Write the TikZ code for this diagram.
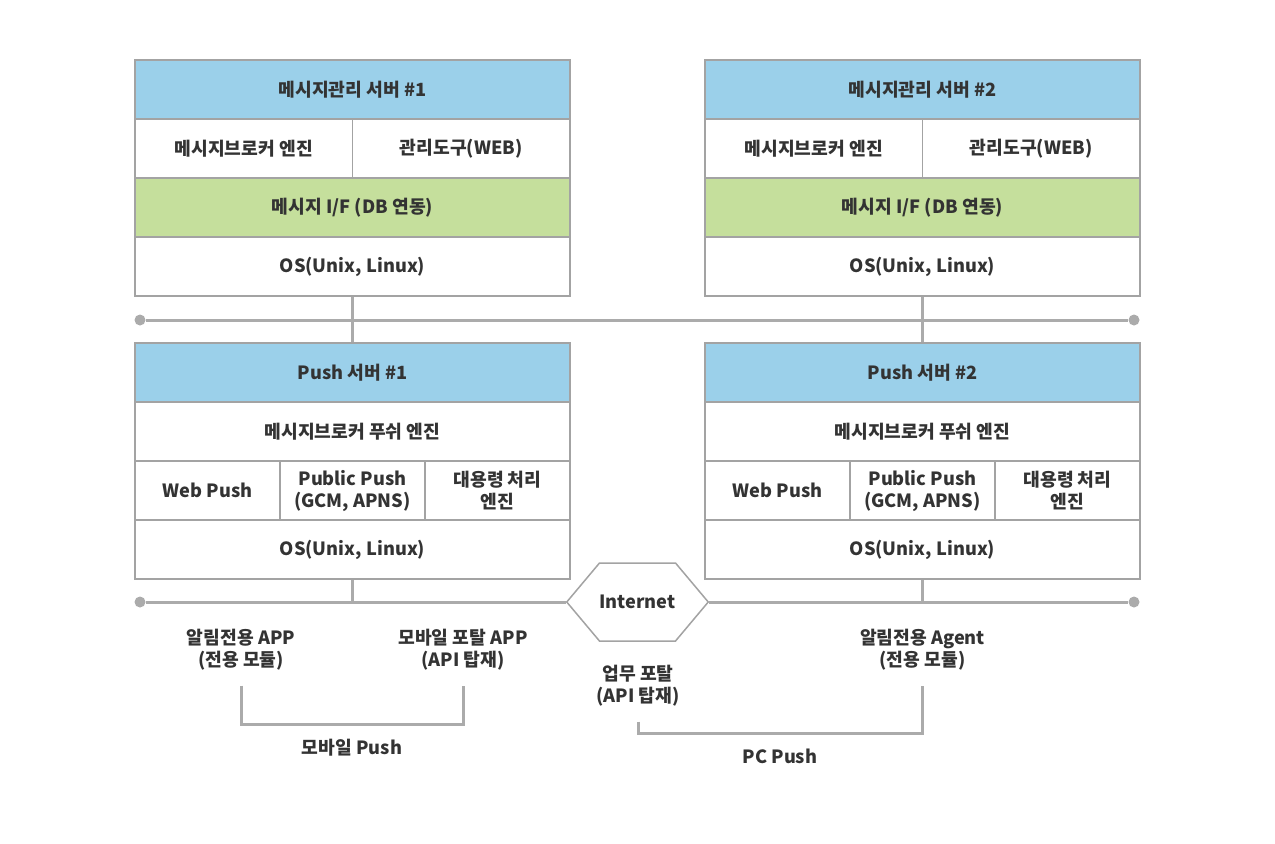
\documentclass[tikz,border=0pt]{standalone}
\usepackage{fontspec}
\setmainfont{Noto Sans CJK KR}
\usetikzlibrary{shapes.symbols}

\definecolor{hdrblue}{HTML}{9BD0EA}
\definecolor{ifgreen}{HTML}{C5DF9C}
\definecolor{boxgray}{HTML}{A3A3A3}
\definecolor{busgray}{HTML}{ABABAB}
\definecolor{txtdark}{HTML}{333333}

\tikzset{
  cell/.style={draw=boxgray, line width=.75pt, fill=white, inner sep=0pt, align=center,
    text=txtdark, font=\fontsize{9.1}{11}\selectfont\bfseries, minimum height=29.5pt},
  full/.style={cell, minimum width=217.5pt},
  half/.style={cell, minimum width=108.75pt},
  third/.style={cell, minimum width=72.5pt},
  busdot/.style={circle, fill=busgray, inner sep=0pt, minimum size=5.5pt},
  bus/.style={draw=busgray, line width=1.5pt},
  lbl/.style={align=center, text=txtdark, font=\fontsize{9.1}{11}\selectfont\bfseries}
}

\begin{document}
\begin{tikzpicture}[x=0.5pt, y=-0.5pt]
\useasboundingbox (0,0) rectangle (1275,843);

% 메시지관리 서버
\node[full, fill=hdrblue] (mgr1) at (352.5,89.5) {메시지관리 서버 \#1};
\node[half] (brk1) at (243.75,148.5) {메시지브로커 엔진};
\node[half] (tool1) at (461.25,148.5) {관리도구(WEB)};
\node[full, fill=ifgreen] (if1) at (352.5,207.5) {메시지 I/F (DB 연동)};
\node[full] (os1) at (352.5,266.5) {OS(Unix, Linux)};

\node[full, fill=hdrblue] (mgr2) at (922.5,89.5) {메시지관리 서버 \#2};
\node[half] (brk2) at (813.75,148.5) {메시지브로커 엔진};
\node[half] (tool2) at (1031.25,148.5) {관리도구(WEB)};
\node[full, fill=ifgreen] (if2) at (922.5,207.5) {메시지 I/F (DB 연동)};
\node[full] (os2) at (922.5,266.5) {OS(Unix, Linux)};

% Push 서버
\node[full, fill=hdrblue] (push1) at (352.5,372.5) {Push 서버 \#1};
\node[full] (pbrk1) at (352.5,431.5) {메시지브로커 푸쉬 엔진};
\node[third] (web1) at (207.5,490.5) {Web Push};
\node[third] (pub1) at (352.5,490.5) {Public Push\\(GCM, APNS)};
\node[third] (big1) at (497.5,490.5) {대용령 처리\\엔진};
\node[full] (pos1) at (352.5,549.5) {OS(Unix, Linux)};

\node[full, fill=hdrblue] (push2) at (922.5,372.5) {Push 서버 \#2};
\node[full] (pbrk2) at (922.5,431.5) {메시지브로커 푸쉬 엔진};
\node[third] (web2) at (777.5,490.5) {Web Push};
\node[third] (pub2) at (922.5,490.5) {Public Push\\(GCM, APNS)};
\node[third] (big2) at (1067.5,490.5) {대용령 처리\\엔진};
\node[full] (pos2) at (922.5,549.5) {OS(Unix, Linux)};

% bus lines
\node[busdot] (d1l) at (140,320) {};
\node[busdot] (d1r) at (1134,320) {};
\node[busdot] (d2l) at (140,602) {};
\node[busdot] (d2r) at (1134,602) {};
\node[signal, signal to=west and east, signal pointer angle=100, draw=boxgray, line width=.75pt,
  fill=white, minimum width=61.5pt, minimum height=39pt, inner sep=0pt, text=txtdark,
  font=\fontsize{9.1}{11}\selectfont\bfseries] (inet) at (637.5,602) {Internet};
\coordinate (j1) at (352.5,602);
\coordinate (j2) at (922.5,602);

\draw[bus] (d1l) -- (d1r);
\draw[bus] (os1) -- (push1);
\draw[bus] (os2) -- (push2);
\draw[bus] (d2l) -- (inet.west);
\draw[bus] (inet.east) -- (d2r);
\draw[bus] (pos1.south) -- (j1);
\draw[bus] (pos2.south) -- (j2);

% clients
\node[lbl] (app1) at (241,650) {알림전용 APP\\(전용 모듈)};
\node[lbl] (app2) at (463,650) {모바일 포탈 APP\\(API 탑재)};
\node[lbl] (portal) at (638,686) {업무 포탈\\(API 탑재)};
\node[lbl] (agent) at (922.5,650) {알림전용 Agent\\(전용 모듈)};
\node[lbl] (mob) at (352,748) {모바일 Push};
\node[lbl] (pc) at (780,756) {PC Push};

\draw[bus] ([yshift=-4pt]app1.south) |- (352,724) -| ([yshift=-4pt]app2.south);
\draw[bus] ([yshift=-4pt]portal.south) |- (780,733) -| ([yshift=-4pt]agent.south);
\end{tikzpicture}
\end{document}
